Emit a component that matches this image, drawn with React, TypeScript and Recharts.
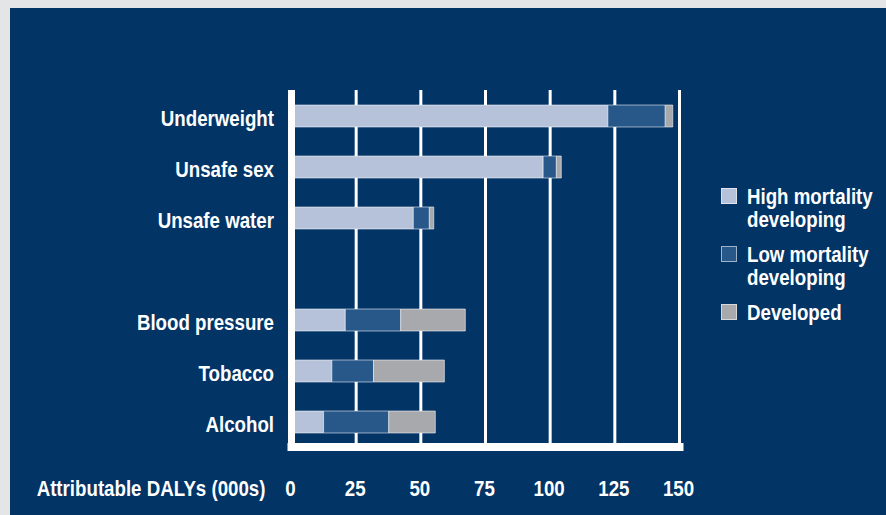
import { Bar, BarChart, CartesianGrid, Legend, XAxis, YAxis } from "recharts";

const categories = ["Underweight", "Unsafe sex", "Unsafe water", "", "Blood pressure", "Tobacco", "Alcohol"];
const highMortality = [122.3, 97.3, 47.1, null, 20.8, 15.6, 12.4];
const lowMortality = [22.2, 5.1, 6.2, null, 21.4, 16.1, 25.2];
const developed = [2.9, 1.9, 1.7, null, 25.0, 27.4, 18.0];
const seriesNames = ["High mortality developing", "Low mortality developing", "Developed"];
const xTicks = [0, 25, 50, 75, 100, 125, 150];

const data = categories.map((name, i) => ({
  name,
  high: highMortality[i],
  low: lowMortality[i],
  dev: developed[i],
}));

// no condensed face installed, so squeeze Liberation Sans Bold horizontally
const FONT = "'Liberation Sans', Arial, sans-serif";
const SQUEEZE = 0.85;
const BG = "#023466";
const BAR_STROKE = "rgba(255,255,255,0.55)";

function NarrowText({ x, y, anchor, children }: any) {
  return (
    <text
      transform={`translate(${x},${y}) scale(${SQUEEZE},1)`}
      textAnchor={anchor}
      fill="#fff"
      fontFamily={FONT}
      fontWeight="bold"
      fontSize={22}
    >
      {children}
    </text>
  );
}

function CategoryTick({ x, y, payload }: any) {
  return (
    <NarrowText x={x - 17.5} y={y + 10} anchor="end">
      {payload.value}
    </NarrowText>
  );
}

function ValueTick({ x, y, payload }: any) {
  return (
    <NarrowText x={x - 1} y={y + 49} anchor="middle">
      {payload.value}
    </NarrowText>
  );
}

function AxisTitle({ viewBox }: any) {
  if (!viewBox) return null;
  return (
    <NarrowText x={viewBox.x - 26} y={viewBox.y + 49} anchor="end">
      Attributable DALYs (000s)
    </NarrowText>
  );
}

function LegendBox({ payload }: any) {
  const items = [...(payload || [])].sort(
    (a: any, b: any) => seriesNames.indexOf(a.value) - seriesNames.indexOf(b.value)
  );
  return (
    <div style={{ fontFamily: FONT, fontWeight: "bold", fontSize: 22, color: "#fff" }}>
      {items.map((item: any) => {
        const words = String(item.value).split(" ");
        const lines = words.length > 1 ? [words.slice(0, -1).join(" "), words[words.length - 1]] : words;
        return (
          <div key={item.value} style={{ display: "flex", alignItems: "flex-start", marginBottom: 12 }}>
            <div
              style={{
                width: 14,
                height: 14,
                marginTop: 3.5,
                marginRight: 10,
                background: item.color,
                border: `1px solid ${BAR_STROKE}`,
                flexShrink: 0,
              }}
            />
            <div style={{ lineHeight: "23px", textAlign: "left", transform: `scaleX(${SQUEEZE})`, transformOrigin: "left top" }}>
              {lines.map((l) => (
                <div key={l} style={{ whiteSpace: "nowrap" }}>{l}</div>
              ))}
            </div>
          </div>
        );
      })}
    </div>
  );
}

export default function App() {
  return (
    <div style={{ position: "absolute", left: 0, top: 0, width: 886, height: 515, background: "#e4e5e7", overflow: "hidden" }}>
      <div style={{ position: "absolute", left: 10, top: 8, right: 0, bottom: 0, background: BG }} />
      <div style={{ position: "absolute", left: 0, top: 0 }}>
        <BarChart
          width={886}
          height={515}
          data={data}
          layout="vertical"
          barSize={22}
          margin={{ top: 90, right: 206.5, bottom: 28, left: 11.5 }}
        >
          <CartesianGrid horizontal={false} stroke="#fff" strokeWidth={3} />
          <Bar dataKey="high" name={seriesNames[0]} stackId="a" fill="#b5c2d9" stroke={BAR_STROKE} strokeWidth={1} isAnimationActive={false} />
          <Bar dataKey="low" name={seriesNames[1]} stackId="a" fill="#28588a" stroke={BAR_STROKE} strokeWidth={1} isAnimationActive={false} />
          <Bar dataKey="dev" name={seriesNames[2]} stackId="a" fill="#a8a9ac" stroke={BAR_STROKE} strokeWidth={1} isAnimationActive={false} />
          <XAxis
            type="number"
            domain={[0, 150]}
            ticks={xTicks}
            interval={0}
            height={40}
            tickSize={0}
            tickMargin={0}
            tick={<ValueTick />}
            axisLine={{ stroke: "#fff", strokeWidth: 8, strokeLinecap: "square" }}
            label={<AxisTitle />}
          />
          <YAxis
            type="category"
            dataKey="name"
            width={280}
            interval={0}
            tickSize={0}
            tickMargin={0}
            tick={<CategoryTick />}
            axisLine={{ stroke: "#fff", strokeWidth: 7 }}
          />
          <Legend
            layout="horizontal"
            verticalAlign="middle"
            align="center"
            content={<LegendBox />}
            wrapperStyle={{ left: 721, top: 184.5, width: 165, height: "auto" }}
          />
        </BarChart>
      </div>
    </div>
  );
}
